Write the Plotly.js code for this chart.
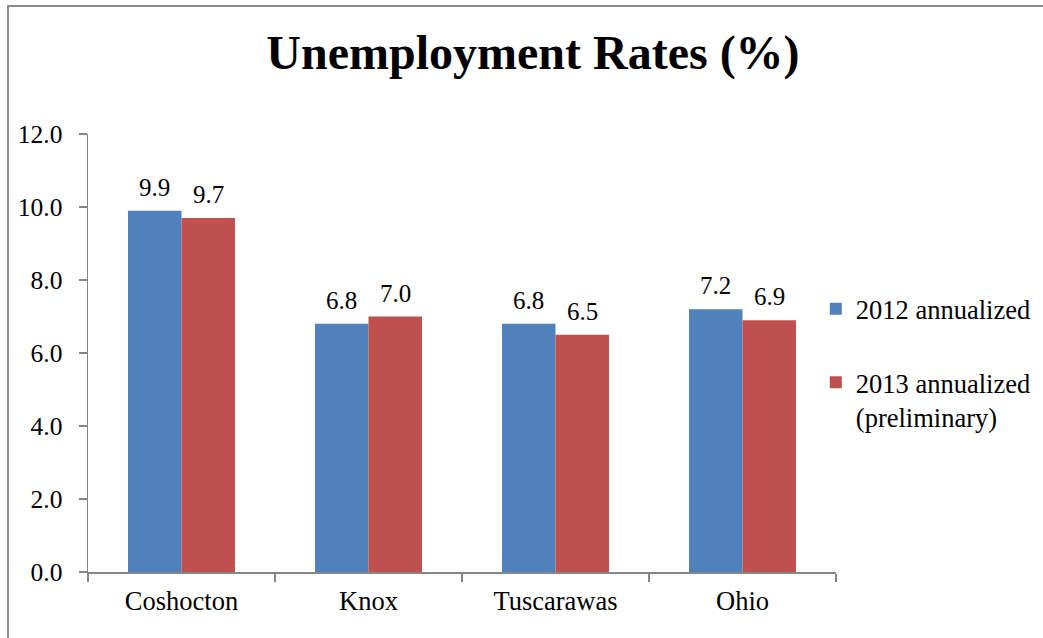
<!DOCTYPE html>
<html>
<head>
<meta charset="utf-8">
<script src="https://cdn.plot.ly/plotly-3.0.1.min.js"></script>
<style>
  html, body { margin: 0; padding: 0; background: #ffffff; overflow: hidden; }
  #chart { position: absolute; left: 0; top: 0; width: 1043px; height: 638px; }
  #frame { position: absolute; left: 7px; top: 5px; width: 1100px; height: 700px;
           border: 2px solid #8c8c8c; pointer-events: none; }
</style>
</head>
<body>
<div id="chart"></div>
<div id="frame"></div>
<script>
const categories = ["Coshocton", "Knox", "Tuscarawas", "Ohio"];
const rates2012 = [9.9, 6.8, 6.8, 7.2];
const rates2013 = [9.7, 7.0, 6.5, 6.9];
const seriesNames = ["2012 annualized", "2013 annualized<br>(preliminary)"];
const yTicks = [0, 2, 4, 6, 8, 10, 12];

const FONT = "Liberation Serif, Times New Roman, Times, serif";
const BAR_OFFSET = 26.7; // half of one bar's pixel width, for label centering

const traces = [
  {
    type: "bar", x: categories, y: rates2012, name: seriesNames[0],
    legendgroup: "a",
    marker: { color: "#4F81BD" },
    hoverinfo: "skip"
  },
  {
    type: "bar", x: categories, y: rates2013, name: seriesNames[1],
    legendgroup: "b",
    marker: { color: "#C0504D" },
    hoverinfo: "skip"
  }
];

function labels(values, shift) {
  return values.map((v, i) => ({
    x: categories[i], y: v, xref: "x", yref: "y",
    text: v.toFixed(1), showarrow: false,
    xanchor: "center", yanchor: "bottom",
    xshift: shift, yshift: 8,
    font: { family: FONT, size: 25, color: "#000" }
  }));
}

const layout = {
  width: 1043, height: 638,
  margin: { l: 88, r: 207, t: 134, b: 66, pad: 0, autoexpand: false },
  paper_bgcolor: "#ffffff", plot_bgcolor: "#ffffff",
  font: { family: FONT, size: 25, color: "#000" },
  title: {
    text: "<b>Unemployment Rates (%)</b>",
    font: { family: FONT, size: 48, color: "#000" },
    x: 0.511, xref: "container", xanchor: "center",
    y: 0.918, yref: "container", yanchor: "middle"
  },
  barmode: "group", bargap: 0.428, bargroupgap: 0,
  xaxis: {
    type: "category",
    showline: true, linecolor: "#868686", linewidth: 1.5,
    ticks: "outside", tickson: "boundaries", ticklen: 8, tickcolor: "#868686", tickwidth: 1.5,
    tickfont: { family: FONT, size: 26.5, color: "#000" },
    ticklabelstandoff: 5,
    showgrid: false, zeroline: false, fixedrange: true
  },
  yaxis: {
    range: [0, 12], tickvals: yTicks, ticktext: yTicks.map(v => v.toFixed(1)),
    showline: true, linecolor: "#868686", linewidth: 1.5,
    ticks: "outside", ticklen: 8, tickcolor: "#868686", tickwidth: 1.5,
    tickfont: { family: FONT, size: 25.5, color: "#000" },
    ticklabelstandoff: 11,
    showgrid: false, zeroline: false, fixedrange: true
  },
  annotations: labels(rates2012, -BAR_OFFSET).concat(labels(rates2013, BAR_OFFSET)),
  showlegend: true,
  legend: {
    x: 0.973, xanchor: "left", y: 0.655, yanchor: "top",
    traceorder: "grouped", tracegroupgap: 36, valign: "top",
    font: { family: FONT, size: 26.5, color: "#000" },
    bgcolor: "rgba(0,0,0,0)", borderwidth: 0
  }
};

Plotly.newPlot("chart", traces, layout, { displayModeBar: false, staticPlot: true });
</script>
</body>
</html>
